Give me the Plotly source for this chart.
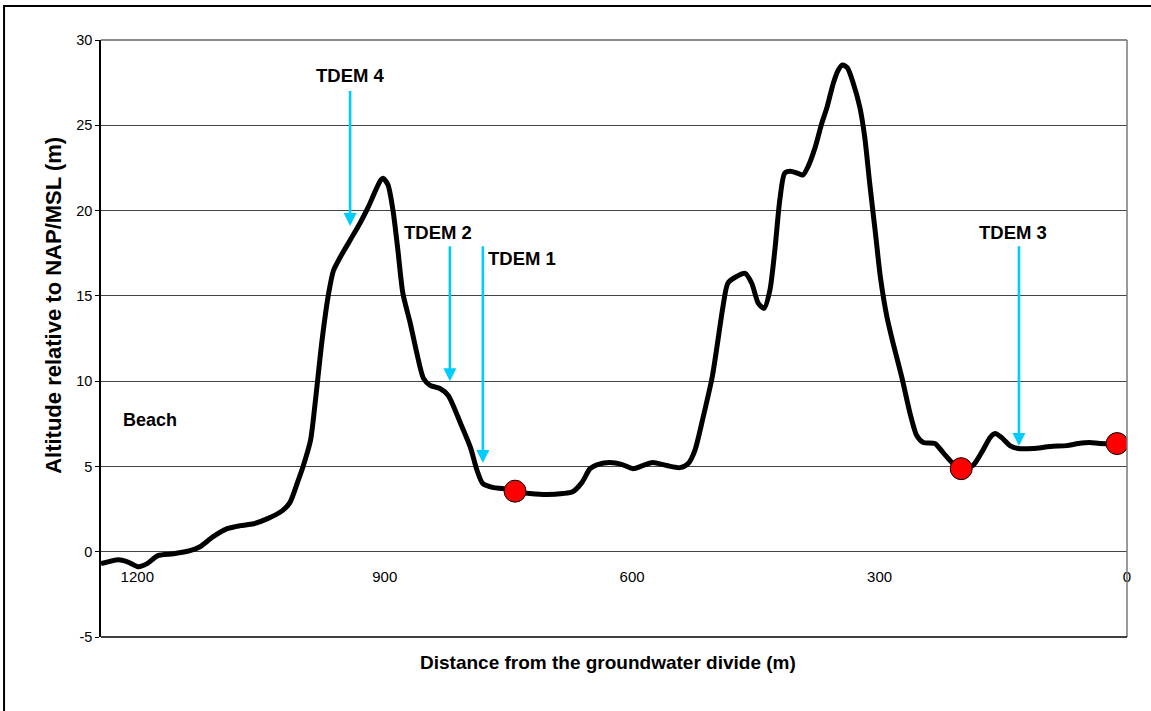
import plotly.graph_objects as go

# Profile: distance from groundwater divide (m) vs altitude (m)
distance = [1244, 1223, 1212, 1199, 1188, 1175, 1156, 1136, 1124, 1108, 1091, 1075, 1059, 1042,
            1024, 1015, 1005, 999, 990, 984, 976, 968, 962, 954, 942, 930, 920, 912, 905, 902,
            896, 890, 884, 878, 869, 861, 853, 845, 833, 823, 808, 796, 788, 781, 768, 756,
            742, 724, 703, 684, 672, 661, 651, 642, 627, 612, 599, 587, 575, 558, 542, 532,
            524, 514, 503, 496, 490, 484, 475, 463, 455, 447, 440, 433, 427, 421, 415, 408,
            400, 393, 387, 378, 370, 364, 356, 350, 345, 339, 332, 324, 318, 312, 305, 299,
            291, 284, 273, 263, 255, 247, 233, 223, 211, 201, 187, 175, 166, 160, 152, 142,
            132, 114, 93, 73, 59, 45, 33, 12]
altitude = [-0.70, -0.47, -0.59, -0.88, -0.70, -0.23, -0.12, 0.06, 0.29, 0.88, 1.35, 1.53, 1.64, 1.94,
            2.41, 2.88, 4.17, 5.0, 6.52, 8.87, 12.39, 15.15, 16.5, 17.26, 18.26, 19.26, 20.2, 21.08, 21.78, 21.9,
            21.5, 20.02, 17.67, 15.15, 13.39, 11.63, 10.16, 9.75, 9.57, 9.16, 7.52, 6.1, 4.76, 3.99, 3.76, 3.7,
            3.52, 3.41, 3.35, 3.41, 3.52, 4.05, 4.87, 5.1, 5.23, 5.11, 4.87, 5.05, 5.23, 5.05, 4.93, 5.17,
            5.93, 7.87, 10.22, 12.39, 14.33, 15.74, 16.09, 16.32, 15.74, 14.56, 14.27, 15.33, 17.67, 20.61, 22.2, 22.31,
            22.2, 22.08, 22.55, 23.72, 25.13, 26.01, 27.48, 28.24, 28.54, 28.36, 27.48, 26.07, 24.31, 21.61, 18.67, 16.09,
            13.74, 12.3, 10.22, 8.1, 6.81, 6.4, 6.34, 5.81, 5.17, 4.87, 5.05, 5.93, 6.69, 6.93, 6.69, 6.22,
            6.05, 6.05, 6.17, 6.22, 6.34, 6.4, 6.34, 6.34]

# Red marker points
dot_distance = [742, 201, 12]
dot_altitude = [3.55, 4.87, 6.34]

# TDEM soundings: label, x position, arrow tail altitude, arrow tip altitude
tdem_names = ["TDEM 4", "TDEM 2", "TDEM 1", "TDEM 3"]
tdem_x = [942, 821, 781, 131]
tdem_tail = [27.1, 18.0, 18.0, 18.0]
tdem_tip = [19.1, 10.0, 5.2, 6.2]
tdem_label_x = [942, 836, 734, 138]
tdem_label_y = [27.9, 18.7, 17.2, 18.7]

x_ticks = [1200, 900, 600, 300, 0]
y_ticks = [-5, 0, 5, 10, 15, 20, 25, 30]

FONT = "Liberation Sans, Arial, sans-serif"
CYAN = "#00CCFF"

fig = go.Figure()
fig.add_trace(go.Scatter(x=distance, y=altitude, mode="lines",
                         line=dict(color="black", width=5, shape="spline", smoothing=0.7),
                         hoverinfo="skip", showlegend=False))
fig.add_trace(go.Scatter(x=dot_distance, y=dot_altitude, mode="markers",
                         marker=dict(size=22, color="#FF0000", line=dict(color="black", width=1)),
                         showlegend=False))

annotations = []
for name, x, t0, t1, lx, ly in zip(tdem_names, tdem_x, tdem_tail, tdem_tip, tdem_label_x, tdem_label_y):
    annotations.append(dict(x=x, y=t1, ax=x, ay=t0, xref="x", yref="y", axref="x", ayref="y",
                            text="", showarrow=True, arrowhead=2, arrowsize=1.0, arrowwidth=2.6,
                            arrowcolor=CYAN, standoff=0, startstandoff=0))
    annotations.append(dict(x=lx, y=ly, xref="x", yref="y", text="<b>%s</b>" % name,
                            showarrow=False, font=dict(family=FONT, size=18.5, color="black")))

annotations.append(dict(x=1184, y=7.7, xref="x", yref="y", text="<b>Beach</b>", showarrow=False,
                        font=dict(family=FONT, size=18, color="black")))
annotations.append(dict(x=0.494, y=-0.042, xref="paper", yref="paper",
                        text="<b>Distance from the groundwater divide (m)</b>", showarrow=False,
                        xanchor="center", yanchor="middle",
                        font=dict(family=FONT, size=19, color="black")))
annotations.append(dict(x=-0.047, y=0.556, xref="paper", yref="paper", textangle=-90,
                        text="<b>Altitude relative to NAP/MSL (m)</b>", showarrow=False,
                        xanchor="center", yanchor="middle",
                        font=dict(family=FONT, size=22, color="black")))

shapes = [
    # outer frame (clipped at right/bottom like the reference)
    dict(type="rect", xref="paper", yref="paper", x0=-0.0945, y0=-0.3, x1=1.2, y1=1.057,
         line=dict(color="black", width=2)),
    # plot area borders
    dict(type="line", xref="paper", yref="paper", x0=1, x1=1, y0=0, y1=1,
         line=dict(color="#777777", width=1.5)),
    dict(type="line", xref="paper", yref="paper", x0=0, x1=1, y0=1, y1=1,
         line=dict(color="#666666", width=1.5)),
    dict(type="line", xref="paper", yref="paper", x0=0, x1=1, y0=0, y1=0,
         line=dict(color="black", width=1.5)),
]

fig.update_layout(
    width=1151, height=711,
    margin=dict(l=101, r=24, t=40, b=74),
    paper_bgcolor="white", plot_bgcolor="white",
    showlegend=False,
    font=dict(family=FONT, color="black"),
    annotations=annotations,
    shapes=shapes,
    xaxis=dict(range=[1244, 0], tickvals=x_ticks, ticktext=[str(v) for v in x_ticks],
               showgrid=False, zeroline=False, showline=False, ticks="",
               anchor="free", position=5 / 35, ticklabelstandoff=14,
               tickfont=dict(family=FONT, size=15, color="black")),
    yaxis=dict(range=[-5, 30], tickvals=y_ticks, ticktext=[str(v) for v in y_ticks],
               showgrid=True, gridcolor="#444444", gridwidth=1,
               zeroline=False, showline=True, linecolor="black", linewidth=1.5,
               ticks="outside", ticklen=4, tickcolor="black",
               tickfont=dict(family=FONT, size=14.5, color="black")),
)

fig.write_html("out.html")
